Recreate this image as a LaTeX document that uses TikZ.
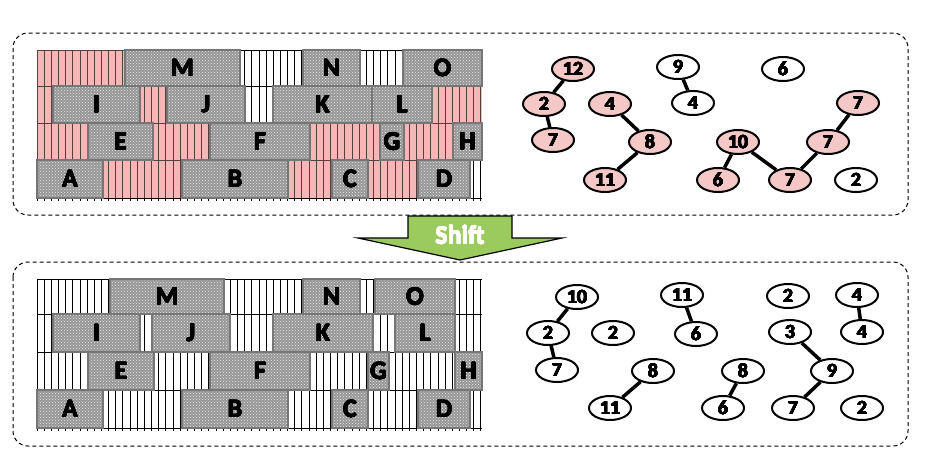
\documentclass[tikz,border=0pt]{standalone}
\usepackage{fontspec}
\setmainfont{Carlito}
\usepackage{contour}
\contourlength{0.3pt}
\contournumber{16}
\usetikzlibrary{shapes.geometric,patterns}
\definecolor{pinkbg}{RGB}{247,182,182}
\definecolor{pinknode}{RGB}{245,200,200}
\definecolor{blockgray}{RGB}{150,150,150}
\definecolor{blockedge}{RGB}{118,118,118}
\definecolor{arrowgreen}{RGB}{155,203,95}
\newcommand{\bt}[1]{\contour{black}{#1}}
\tikzset{
  frame/.style={draw=black, dash pattern=on 4pt off 3pt, line width=1pt, rounded corners=15pt},
  blk/.style={rectangle, inner sep=0pt, outer sep=0pt, fill=blockgray,
    postaction={pattern=crosshatch dots, pattern color=white!85!gray},
    postaction={draw=blockedge, line width=2pt},
    font=\bfseries\fontsize{26}{30}\selectfont, text=black},
  tnode/.style={ellipse, draw=black, line width=2pt, minimum width=42pt, minimum height=24pt, inner sep=0pt, font=\bfseries\fontsize{20}{24}\selectfont},
  hot/.style={tnode, fill=pinknode},
  cold/.style={tnode, fill=white},
  tedge/.style={line width=3.5pt},
  stripe/.style={line width=0.9pt, draw=black},
  arrowbody/.style={fill=arrowgreen, draw=black, line width=1.2pt, line join=miter},
}
\newcommand{\blk}[6]{\node[blk, minimum width={(#3)-(#2)}, minimum height={(#5)-(#4)}] (#1) at ({((#2)+(#3))/2},{((#4)+(#5))/2}) {\bt{#6}};}
\newcommand{\tn}[4]{\node[#1] (#2) at (#3) {\bt{#4}};}
\begin{document}
\begin{tikzpicture}[x=1pt,y=-1pt]
\useasboundingbox (0,0) rectangle (928,464);
% frames
\draw[frame] (13,33) rectangle (908,215);
\draw[frame] (13,262) rectangle (908,446);
% ---------- top panel background ----------
\foreach \a/\b/\c/\d in {37/125/50/86, 37/53/86/123, 140/167/86/123, 432/482/86/123,
  37/88/123/160, 153/210/123/160, 310/380/123/160, 404/453/123/160,
  103/182/160/198, 288/332/160/198, 368/418/160/198}
  \fill[pinkbg] (\a,\c) rectangle (\b,\d);
\foreach \i in {0,...,62} \draw[stripe] ({37+7.16*\i},50) -- ({37+7.16*\i},201);
\foreach \y in {50,86,123,160,198} \draw[stripe] (37,\y) -- (482,\y);
\foreach \a/\b/\c/\d in {37/125/50/86, 37/53/86/123, 140/167/86/123, 432/482/86/123,
  37/88/123/160, 153/210/123/160, 310/380/123/160, 404/453/123/160,
  103/182/160/198, 288/332/160/198, 368/418/160/198}
  \fill[pinkbg, opacity=0.35] (\a,\c) rectangle (\b,\d);
% top blocks
\blk{tM}{125}{240}{50}{86}{M}
\blk{tN}{303}{360}{50}{86}{N}
\blk{tO}{403}{482}{50}{86}{O}
\blk{tI}{53}{140}{86}{123}{I}
\blk{tJ}{167}{245}{86}{123}{J}
\blk{tK}{273}{372}{86}{123}{K}
\blk{tL}{372}{432}{86}{123}{L}
\blk{tE}{88}{153}{123}{160}{E}
\blk{tF}{210}{310}{123}{160}{F}
\blk{tG}{380}{404}{123}{160}{G}
\blk{tH}{453}{482}{123}{160}{H}
\blk{tA}{37}{103}{160}{198}{A}
\blk{tB}{182}{288}{160}{198}{B}
\blk{tC}{332}{368}{160}{198}{C}
\blk{tD}{418}{470}{160}{198}{D}
% ---------- bottom panel background ----------
\foreach \i in {0,...,62} \draw[stripe] ({37+7.16*\i},279) -- ({37+7.16*\i},431);
\foreach \y in {279,314,352,390,428} \draw[stripe] (37,\y) -- (482,\y);
\blk{bM}{110}{224}{279}{314}{M}
\blk{bN}{303}{360}{279}{314}{N}
\blk{bO}{375}{455}{279}{314}{O}
\blk{bI}{53}{140}{314}{352}{I}
\blk{bJ}{152}{230}{314}{352}{J}
\blk{bK}{273}{373}{314}{352}{K}
\blk{bL}{395}{455}{314}{352}{L}
\blk{bE}{88}{154}{352}{390}{E}
\blk{bF}{210}{310}{352}{390}{F}
\blk{bG}{368}{389}{352}{390}{G}
\blk{bH}{455}{482}{352}{390}{H}
\blk{bA}{37}{103}{390}{428}{A}
\blk{bB}{182}{288}{390}{428}{B}
\blk{bC}{332}{368}{390}{428}{C}
\blk{bD}{418}{470}{390}{428}{D}
% ---------- top trees ----------
\tn{hot}{t12}{573,69}{12}
\tn{hot}{t2}{544,104}{2}
\tn{hot}{t7}{553,140}{7}
\tn{hot}{t4}{610,104}{4}
\tn{hot}{t8}{650,142}{8}
\tn{hot}{t11}{605,180}{11}
\tn{cold}{t9}{678,67}{9}
\tn{cold}{t4b}{693,103}{4}
\tn{cold}{t6}{783,69}{6}
\tn{hot}{t7a}{858,103}{7}
\tn{hot}{t7m}{828,142}{7}
\tn{hot}{t10}{738,142}{10}
\tn{hot}{t6b}{718,180}{6}
\tn{hot}{t7b}{790,180}{7}
\tn{cold}{t2b}{856,180}{2}
\draw[tedge] (t12) -- (t2);
\draw[tedge] (t2) -- (t7);
\draw[tedge] (t4) -- (t8);
\draw[tedge] (t8) -- (t11);
\draw[tedge] (t9) -- (t4b);
\draw[tedge] (t10) -- (t6b);
\draw[tedge] (t10) -- (t7b);
\draw[tedge] (t7b) -- (t7m);
\draw[tedge] (t7m) -- (t7a);
% ---------- bottom trees ----------
\tn{cold}{b10}{577,297}{10}
\tn{cold}{b2}{548,333}{2}
\tn{cold}{b7}{557,370}{7}
\tn{cold}{b2f}{613,333}{2}
\tn{cold}{b11}{682,295}{11}
\tn{cold}{b6}{696,334}{6}
\tn{cold}{b8}{653,371}{8}
\tn{cold}{b11b}{610,408}{11}
\tn{cold}{b8r}{743,371}{8}
\tn{cold}{b6r}{723,408}{6}
\tn{cold}{b2r}{788,296}{2}
\tn{cold}{b4}{857,295}{4}
\tn{cold}{b3}{790,332}{3}
\tn{cold}{b4b}{862,332}{4}
\tn{cold}{b9}{832,371}{9}
\tn{cold}{b7r}{793,408}{7}
\tn{cold}{b2rr}{862,408}{2}
\draw[tedge] (b10) -- (b2);
\draw[tedge] (b2) -- (b7);
\draw[tedge] (b11) -- (b6);
\draw[tedge] (b8) -- (b11b);
\draw[tedge] (b8r) -- (b6r);
\draw[tedge] (b4) -- (b4b);
\draw[tedge] (b3) -- (b9);
\draw[tedge] (b9) -- (b7r);
% ---------- arrow ----------
\draw[arrowbody] (408,216) -- (512,216) -- (512,238) -- (562,238) -- (460,260) -- (358,238) -- (408,238) -- cycle;
\node[font=\bfseries\fontsize{26}{30}\selectfont, text=white] (shift) at (460,235) {\contourlength{0.2pt}\contour{white}{Shift}};
\end{tikzpicture}
\end{document}
